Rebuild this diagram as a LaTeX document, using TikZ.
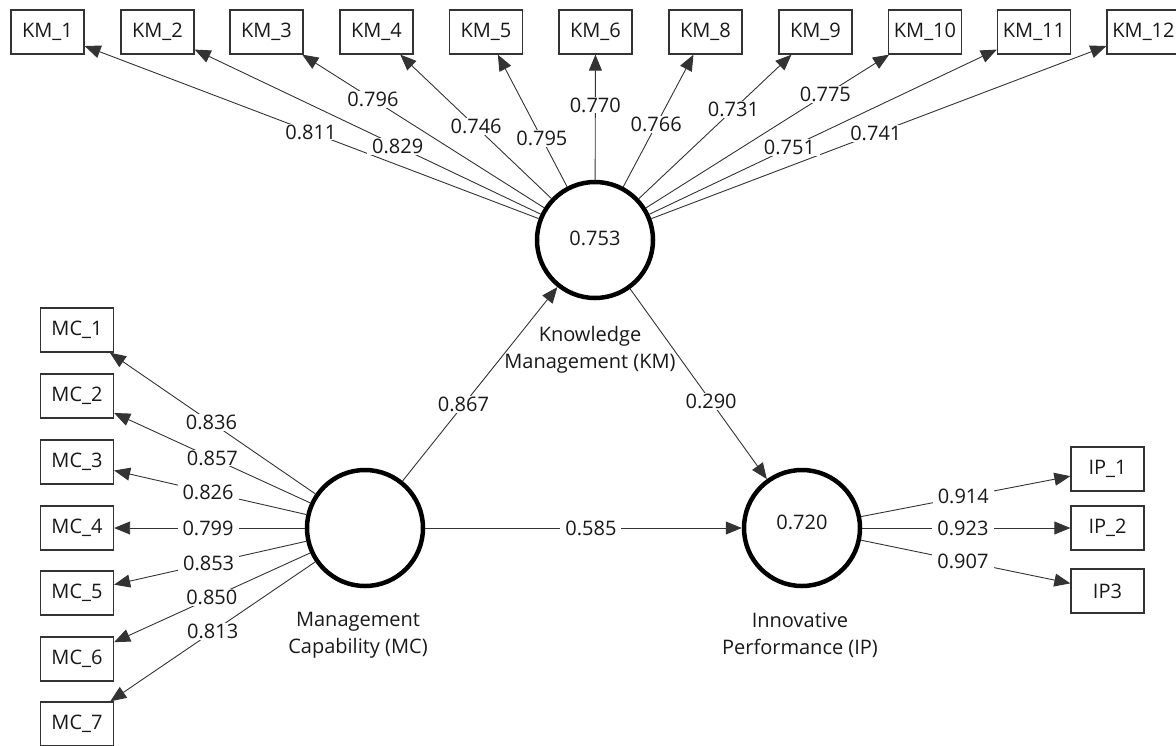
\documentclass[tikz,border=0pt]{standalone}
\usepackage{fontspec}
\setmainfont{Open Sans}
\usetikzlibrary{arrows.meta,calc}
\begin{document}
\begin{tikzpicture}[x=1pt,y=-1pt,
  every node/.style={font=\fontsize{20}{24}\selectfont, text=black!90},
  ind/.style={draw=black!80, line width=1.3pt, minimum width=73pt, minimum height=44pt, inner sep=0pt},
  lat/.style={circle, draw=black, line width=4.5pt, minimum size=116pt, inner sep=0pt},
  conn/.style={draw=black!80, line width=0.9pt, -{Triangle[length=16pt,width=13pt]}},
  lbl/.style={fill=white, inner xsep=5pt, inner ysep=1pt},
  latcap/.style={align=center, font=\fontsize{20}{27}\selectfont}
]
\useasboundingbox (0,0) rectangle (1176,745);
% latent variables
\node[lat] (km) at (595,240) {};
\node[lat] (mc) at (365,528) {};
\node[lat] (ip) at (802,528) {};
\node at (595,238) {0.753};
\node at (802,522) {0.720};
\node[latcap] (kmcap) at (590,350) {Knowledge\\Management (KM)};
\node[latcap] (mccap) at (358,635) {Management\\Capability (MC)};
\node[latcap] (ipcap) at (800,635) {Innovative\\Performance (IP)};
% KM indicators
\node[ind] (km1) at (47.5,32) {KM\_1};
\node[ind] (km2) at (157.5,32) {KM\_2};
\node[ind] (km3) at (266.5,32) {KM\_3};
\node[ind] (km4) at (376.5,32) {KM\_4};
\node[ind] (km5) at (486,32) {KM\_5};
\node[ind] (km6) at (595.5,32) {KM\_6};
\node[ind] (km8) at (705.5,32) {KM\_8};
\node[ind] (km9) at (815.5,32) {KM\_9};
\node[ind] (km10) at (925,32) {KM\_10};
\node[ind] (km11) at (1034,32) {KM\_11};
\node[ind] (km12) at (1143.5,32) {KM\_12};
% MC indicators
\node[ind] (mc1) at (77,330) {MC\_1};
\node[ind] (mc2) at (77,396) {MC\_2};
\node[ind] (mc3) at (77,462) {MC\_3};
\node[ind] (mc4) at (77,528) {MC\_4};
\node[ind] (mc5) at (77,593) {MC\_5};
\node[ind] (mc6) at (77,659) {MC\_6};
\node[ind] (mc7) at (77,724) {MC\_7};
% IP indicators
\node[ind] (ip1) at (1107.5,469) {IP\_1};
\node[ind] (ip2) at (1107.5,528) {IP\_2};
\node[ind] (ip3) at (1107.5,591) {IP3};
% connectors
\foreach \t in {km1,km2,km3,km4,km5,km6,km8,km9,km10,km11,km12}
  \draw[conn] (km) -- (\t);
\foreach \t in {mc1,mc2,mc3,mc4,mc5,mc6,mc7}
  \draw[conn] (mc) -- (\t);
\foreach \t in {ip1,ip2,ip3}
  \draw[conn] (ip) -- (\t);
\draw[conn] (mc) -- (km);
\draw[conn] (km) -- (ip);
\draw[conn] (mc) -- (ip);
% loading labels
\foreach \t/\f/\v in {km1/0.519/0.811, km2/0.451/0.829, km3/0.676/0.796, km4/0.544/0.746,
  km5/0.4875/0.795, km6/0.649/0.770, km8/0.554/0.766, km9/0.628/0.731,
  km10/0.698/0.775, km11/0.443/0.751, km12/0.512/0.741}
  \node[lbl] at ($(km)!\f!(\t)$) {\v};
\foreach \t/\f/\v in {mc1/0.533/0.836, mc2/0.530/0.857, mc3/0.545/0.826, mc4/0.545/0.799,
  mc5/0.543/0.853, mc6/0.532/0.850, mc7/0.529/0.813}
  \node[lbl] at ($(mc)!\f!(\t)$) {\v};
\foreach \t/\f/\v in {ip1/0.528/0.914, ip2/0.527/0.923, ip3/0.527/0.907}
  \node[lbl] at ($(ip)!\f!(\t)$) {\v};
\node[lbl] at ($(mc)!0.428!(km)$) {0.867};
\node[lbl] at ($(km)!0.561!(ip)$) {0.290};
\node[lbl] at ($(mc)!0.517!(ip)$) {0.585};
\end{tikzpicture}
\end{document}
